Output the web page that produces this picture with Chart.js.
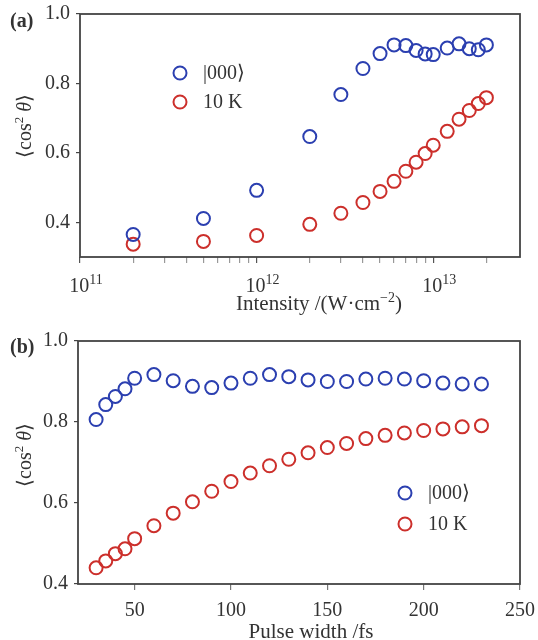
<!DOCTYPE html>
<html>
<head>
<meta charset="utf-8">
<script src="https://cdn.jsdelivr.net/npm/chart.js@4"></script>
<style>
  html, body { margin: 0; padding: 0; background: #fff; }
  #wrap { position: relative; width: 538px; height: 640px; overflow: hidden; }
  .panel { position: absolute; left: 0; width: 538px; height: 320px; }
</style>
</head>
<body>
<div id="wrap">
  <div class="panel" style="top:0"><canvas id="chartA" width="538" height="320"></canvas></div>
  <div class="panel" style="top:320px"><canvas id="chartB" width="538" height="320"></canvas></div>
</div>
<script>
// panel (a): alignment vs. laser intensity
const intensity = [2e11, 5e11, 1e12, 2e12, 3e12, 4e12, 5e12, 6e12, 7e12, 8e12, 9e12, 1e13, 1.2e13, 1.4e13, 1.6e13, 1.8e13, 2e13];
const groundA = [0.365, 0.411, 0.492, 0.647, 0.768, 0.843, 0.886, 0.911, 0.909, 0.895, 0.885, 0.883, 0.902, 0.914, 0.900, 0.897, 0.911];
const thermalA = [0.337, 0.345, 0.362, 0.394, 0.426, 0.457, 0.489, 0.518, 0.547, 0.573, 0.598, 0.622, 0.662, 0.697, 0.722, 0.742, 0.759];

// panel (b): alignment vs. pulse width
const pulseWidth = [30, 35, 40, 45, 50, 60, 70, 80, 90, 100, 110, 120, 130, 140, 150, 160, 170, 180, 190, 200, 210, 220, 230];
const groundB = [0.806, 0.843, 0.863, 0.882, 0.908, 0.917, 0.902, 0.888, 0.885, 0.896, 0.908, 0.917, 0.912, 0.904, 0.900, 0.900, 0.906, 0.908, 0.906, 0.902, 0.896, 0.894, 0.894];
const thermalB = [0.440, 0.457, 0.475, 0.487, 0.512, 0.544, 0.575, 0.603, 0.629, 0.653, 0.674, 0.692, 0.708, 0.724, 0.737, 0.747, 0.759, 0.767, 0.773, 0.779, 0.783, 0.788, 0.791];

const seriesNames = ['|000\u27E9', '10 K'];
const yTicks = [0.4, 0.6, 0.8, 1.0];
const decades = [1e11, 1e12, 1e13];
const decadeExp = ['11', '12', '13'];
const pulseTicks = [50, 100, 150, 200, 250];

const SERIF = "'Liberation Serif', 'Times New Roman', serif";
const TEXT = '#333';
const BLUE = '#2b3fb0';
const RED = '#cc2f2b';

Chart.defaults.font.family = SERIF;
Chart.defaults.color = TEXT;

// minor + major ticks of the log axis up to 2e13
const logTicks = [];
decades.forEach(d => {
    for (let m = 1; m <= 9; m++) {
        if (d * m <= 2e13) logTicks.push(d * m);
    }
});

function pts(xs, ys) {
    return xs.map((x, i) => ({ x: x, y: ys[i] }));
}

function ds(label, data, color) {
    return {
        label: label,
        data: data,
        showLine: false,
        borderColor: color,
        backgroundColor: 'rgba(0,0,0,0)',
        pointRadius: 6.5,
        pointHoverRadius: 6.5,
        pointBorderWidth: 2,
        clip: false
    };
}

// draw a run of text pieces (font, text, raise) centred on 0
function drawRun(ctx, parts) {
    let w = 0;
    parts.forEach(p => { ctx.font = p.f; p.w = ctx.measureText(p.t).width; w += p.w; });
    let x = -w / 2;
    parts.forEach(p => {
        ctx.font = p.f;
        ctx.fillText(p.t, x, p.dy || 0);
        x += p.w;
    });
}

// box around the plot area
const framePlugin = {
    id: 'frame',
    beforeDatasetsDraw(chart) {
        const a = chart.chartArea, ctx = chart.ctx;
        ctx.save();
        ctx.strokeStyle = '#444';
        ctx.lineWidth = 1.8;
        ctx.strokeRect(a.left, a.top, a.right - a.left, a.bottom - a.top);
        ctx.restore();
    }
};

// legend, panel letter, axis titles, log tick labels
const decorPlugin = {
    id: 'decor',
    afterDraw(chart, args, opts) {
        const ctx = chart.ctx;
        const f20 = '20px ' + SERIF, f21 = '21px ' + SERIF;
        ctx.save();
        ctx.fillStyle = TEXT;

        // panel letter
        ctx.font = 'bold 20px ' + SERIF;
        ctx.textBaseline = 'alphabetic';
        ctx.textAlign = 'left';
        ctx.fillText(opts.letter, opts.letterX, opts.letterY);

        // legend
        chart.data.datasets.forEach((d, i) => {
            const y = opts.legY + i * opts.legGap;
            ctx.beginPath();
            ctx.strokeStyle = d.borderColor;
            ctx.lineWidth = 2;
            ctx.arc(opts.legX, y, 6.5, 0, Math.PI * 2);
            ctx.stroke();
            ctx.font = f20;
            ctx.textBaseline = 'middle';
            ctx.fillText(d.label, opts.legX + 23, y + 1);
        });

        ctx.textBaseline = 'alphabetic';

        // decade labels 10^n under the log axis
        if (opts.logLabels) {
            const xs = chart.scales.x;
            decades.forEach((d, i) => {
                ctx.save();
                ctx.translate(xs.getPixelForValue(d) + 6, opts.logLabelY);
                drawRun(ctx, [{ t: '10', f: f20 }, { t: decadeExp[i], f: '14px ' + SERIF, dy: -8 }]);
                ctx.restore();
            });
        }

        // x title
        ctx.save();
        ctx.translate(opts.xTitleX, opts.xTitleY);
        drawRun(ctx, opts.xTitle.map(p => ({ t: p.t, f: (p.sup ? '14px ' : '21px ') + SERIF, dy: p.sup ? -8 : 0 })));
        ctx.restore();

        // y title  <cos^2 theta>
        ctx.translate(opts.yTitleX, opts.yTitleY);
        ctx.rotate(-Math.PI / 2);
        drawRun(ctx, [
            { t: '\u27E8cos', f: f20 },
            { t: '2', f: '13px ' + SERIF, dy: -8 },
            { t: ' ', f: f20 },
            { t: '\u03B8', f: 'italic 20px ' + SERIF },
            { t: '\u27E9', f: f20 }
        ]);
        ctx.restore();
    }
};

function yScale(min, width) {
    return {
        min: min,
        max: 1.0,
        afterBuildTicks: s => { s.ticks = yTicks.map(v => ({ value: v })); },
        afterFit: s => { s.width = width; s.paddingTop = 0; s.paddingBottom = 0; },
        ticks: { padding: 6, font: { size: 20 }, color: TEXT, callback: v => Number(v).toFixed(1) },
        grid: { drawOnChartArea: false, tickLength: 4, color: '#444', lineWidth: 1.2 },
        border: { display: false }
    };
}

// panel (a)
new Chart(document.getElementById('chartA'), {
    type: 'scatter',
    data: {
        datasets: [
            ds(seriesNames[0], pts(intensity, groundA), BLUE),
            ds(seriesNames[1], pts(intensity, thermalA), RED)
        ]
    },
    options: {
        responsive: false,
        animation: false,
        events: [],
        layout: { padding: { top: 14, right: 18, left: 0, bottom: 0 } },
        scales: {
            x: {
                type: 'logarithmic',
                min: 1e11,
                max: 3.1e13,
                afterBuildTicks: s => { s.ticks = logTicks.map(v => ({ value: v })); },
                afterFit: s => { s.height = 63; s.paddingLeft = 0; s.paddingRight = 0; },
                ticks: { autoSkip: false, maxRotation: 0, callback: () => '' },
                grid: {
                    drawOnChartArea: false, tickLength: 6, lineWidth: 1.2,
                    color: c => (c.tick && decades.includes(c.tick.value)) ? '#555' : '#999'
                },
                border: { display: false }
            },
            y: yScale(0.3, 80)
        },
        plugins: {
            legend: { display: false },
            tooltip: { enabled: false },
            decor: {
                letter: '(a)', letterX: 10, letterY: 27,
                legX: 180, legY: 73, legGap: 29,
                yTitleX: 31, yTitleY: 126,
                logLabels: true, logLabelY: 292,
                xTitle: [{ t: 'Intensity /(W\u00B7cm' }, { t: '\u22122', sup: true }, { t: ')' }],
                xTitleX: 319, xTitleY: 310
            }
        }
    },
    plugins: [framePlugin, decorPlugin]
});

// panel (b)
new Chart(document.getElementById('chartB'), {
    type: 'scatter',
    data: {
        datasets: [
            ds(seriesNames[0], pts(pulseWidth, groundB), BLUE),
            ds(seriesNames[1], pts(pulseWidth, thermalB), RED)
        ]
    },
    options: {
        responsive: false,
        animation: false,
        events: [],
        layout: { padding: { top: 21, right: 18, left: 0, bottom: 0 } },
        scales: {
            x: {
                type: 'linear',
                min: 20.6,
                max: 250,
                afterBuildTicks: s => { s.ticks = pulseTicks.map(v => ({ value: v })); },
                afterFit: s => { s.height = 56; s.paddingLeft = 0; s.paddingRight = 0; },
                ticks: { autoSkip: false, maxRotation: 0, padding: 9, font: { size: 20 }, color: TEXT },
                grid: { drawOnChartArea: false, tickLength: 6, color: '#777', lineWidth: 1.2 },
                border: { display: false }
            },
            y: yScale(0.4, 78)
        },
        plugins: {
            legend: { display: false },
            tooltip: { enabled: false },
            decor: {
                letter: '(b)', letterX: 10, letterY: 33,
                legX: 405, legY: 173, legGap: 31,
                yTitleX: 31, yTitleY: 135,
                logLabels: false,
                xTitle: [{ t: 'Pulse width /fs' }],
                xTitleX: 311, xTitleY: 318
            }
        }
    },
    plugins: [framePlugin, decorPlugin]
});
</script>
</body>
</html>
